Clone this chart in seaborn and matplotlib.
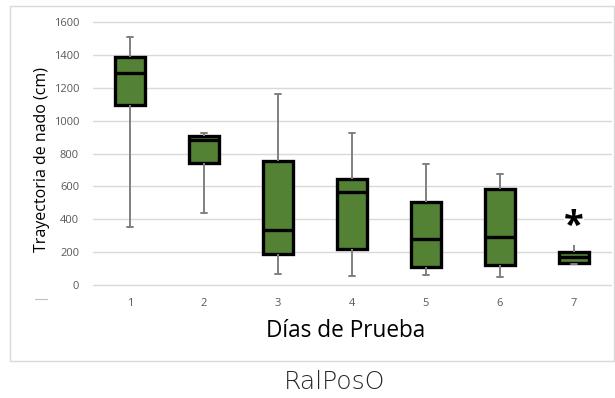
import matplotlib
matplotlib.use("Agg")
import matplotlib.pyplot as plt
import seaborn as sns
import pandas as pd
from matplotlib.patches import Rectangle
from matplotlib.lines import Line2D

# Data: five-number summaries (min, Q1, median, Q3, max)
days = ["1", "2", "3", "4", "5", "6", "7"]
mins    = [350, 435, 65, 55, 59, 47, 127]
q1s     = [1095, 745, 190, 222, 109, 119, 133]
medians = [1290, 880, 335, 568, 279, 289, 168]
q3s     = [1390, 905, 755, 644, 507, 584, 200]
maxs    = [1510, 925, 1160, 925, 737, 677, 252]
star_day = "7"
star_value = 355

rows = []
for d, a, b, c, e, f in zip(days, mins, q1s, medians, q3s, maxs):
    for v in (a, b, c, e, f):
        rows.append({"dia": d, "valor": v})
df = pd.DataFrame(rows)

sns.set_theme(style="white")
plt.rcParams["font.family"] = ["Open Sans", "DejaVu Sans"]

fig = plt.figure(figsize=(6.15, 3.98), dpi=100)
ax = fig.add_axes([93/615, 1-285/398, (611-93)/615, (285-22)/398])

green = "#548235"
sns.boxplot(data=df, x="dia", y="valor", order=days, whis=(0, 100), width=0.4,
            color=green, saturation=1, ax=ax, showfliers=False,
            boxprops=dict(facecolor=green, edgecolor="black", linewidth=2.4),
            medianprops=dict(color="black", linewidth=2.4),
            whiskerprops=dict(color="#808080", linewidth=1.4),
            capprops=dict(color="#808080", linewidth=1.4),
            capwidths=0.08)

ax.set_ylim(0, 1600)
ax.set_xlim(-0.5, 6.5)
ax.set_yticks(range(0, 1601, 200))
ax.yaxis.grid(True, color="#d9d9d9", linewidth=1)
for gl in ax.get_ygridlines():
    gl.set_clip_on(False)
ax.set_axisbelow(True)
for s in ax.spines.values():
    s.set_visible(False)
ax.tick_params(axis="both", length=0, labelsize=8, colors="#595959")
ax.tick_params(axis="x", pad=9)
ax.tick_params(axis="y", pad=10)
ax.set_ylabel("Trayectoria de nado (cm)", fontsize=11.5, color="black")
ax.yaxis.set_label_coords(-0.083, 0.479)
ax.set_xlabel("Días de Prueba", fontsize=16.3, color="black")
ax.xaxis.label.set_va("center")
ax.xaxis.set_label_coords(0.488, -0.175)

ax.text(days.index(star_day), star_value, "*", ha="center", va="center",
        fontsize=26, fontweight="bold", color="black",
        bbox=dict(facecolor="white", edgecolor="none", pad=0.3))

# outer chart frame
fig.add_artist(Rectangle((10/615, 1-361/398), (614-10)/615, (361-6)/398,
                         transform=fig.transFigure, fill=False,
                         edgecolor="#d9d9d9", linewidth=1))
fig.add_artist(Line2D([35/615, 47/615], [1-299/398, 1-299/398],
                      transform=fig.transFigure, color="#bfbfbf", linewidth=0.8))

fig.text(335/615, 1-382/398, "RalPosO", ha="center", va="center", fontsize=18,
         color="#262626", family=["DejaVu Sans"], fontweight="light")

fig.savefig("out.png", dpi=100)
